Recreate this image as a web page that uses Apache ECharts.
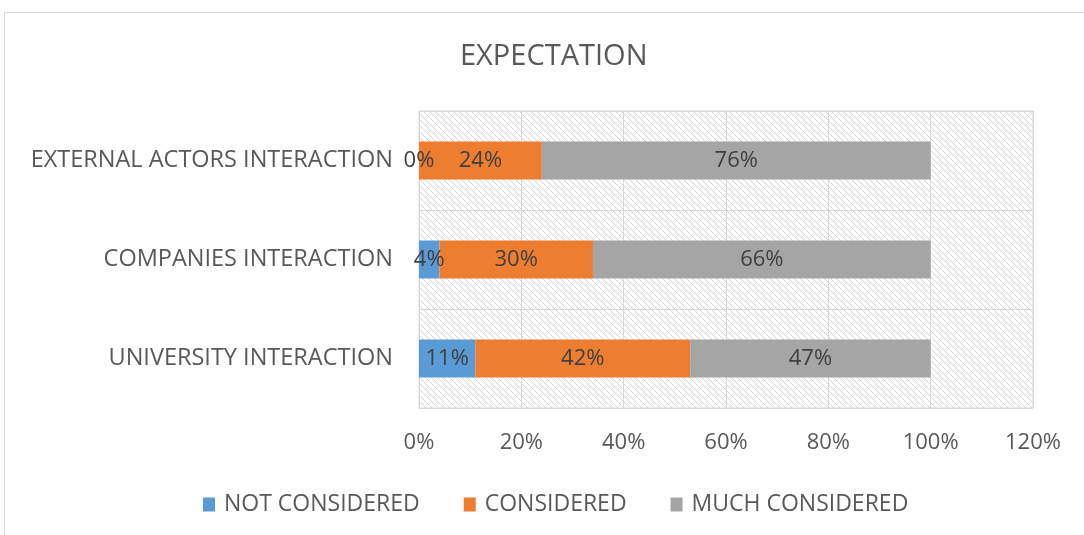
<!DOCTYPE html>
<html>
<head>
<meta charset="utf-8">
<script src="https://cdn.jsdelivr.net/npm/echarts@6/dist/echarts.min.js"></script>
<style>
html,body{margin:0;padding:0;background:#fff;}
#chart{width:1084px;height:535px;}
</style>
</head>
<body>
<div id="chart"></div>
<script>
const categories = ['UNIVERSITY INTERACTION', 'COMPANIES INTERACTION', 'EXTERNAL ACTORS INTERACTION'];
const seriesNames = ['NOT CONSIDERED', 'CONSIDERED', 'MUCH CONSIDERED'];
const notConsidered = [11, 4, 0];
const considered = [42, 30, 24];
const muchConsidered = [47, 66, 76];
const xTicks = [0, 20, 40, 60, 80, 100, 120];

const colors = ['#5B9BD5', '#ED7D31', '#A5A5A5'];
const FONT = 'Open Sans';

// hatch pattern
const pc = document.createElement('canvas');
pc.width = 6; pc.height = 6;
const pctx = pc.getContext('2d');
pctx.fillStyle = '#ffffff';
pctx.fillRect(0, 0, 6, 6);
pctx.strokeStyle = '#D4D4D4';
pctx.lineWidth = 1;
pctx.beginPath();
pctx.moveTo(-1, -1); pctx.lineTo(7, 7);
pctx.moveTo(-1, 5); pctx.lineTo(1, 7);
pctx.moveTo(5, -1); pctx.lineTo(7, 1);
pctx.stroke();

const chart = echarts.init(document.getElementById('chart'), null, {renderer: 'canvas'});
const labelStyle = {
  show: true,
  position: 'inside',
  formatter: '{c}%',
  color: '#404040',
  fontSize: 22,
  fontFamily: FONT
};
const dataSets = [notConsidered, considered, muchConsidered];
chart.setOption({
  animation: false,
  color: colors,
  title: {
    text: 'EXPECTATION',
    left: 455,
    top: 37,
    textStyle: {color: '#595959', fontSize: 29, fontWeight: 'normal', fontFamily: FONT}
  },
  graphic: [{
    type: 'rect',
    shape: {x: 4.5, y: 12.5, width: 1200, height: 700},
    style: {fill: 'none', stroke: '#D9D9D9', lineWidth: 1},
    silent: true
  }],
  legend: {
    bottom: 14,
    left: 198,
    itemWidth: 12,
    itemHeight: 14,
    itemGap: 44,
    icon: 'rect',
    textStyle: {color: '#595959', fontSize: 23, fontFamily: FONT, padding: [0, 0, 0, 4]},
    data: seriesNames
  },
  grid: {
    left: 419, right: 51, top: 111, bottom: 127,
    show: true,
    backgroundColor: {image: pc, repeat: 'repeat'},
    borderColor: '#D9D9D9',
    borderWidth: 1
  },
  xAxis: {
    type: 'value',
    min: xTicks[0],
    max: xTicks[xTicks.length - 1],
    interval: 20,
    axisLine: {show: false},
    axisTick: {show: false},
    axisLabel: {formatter: '{value}%', color: '#595959', fontSize: 22, fontFamily: FONT, margin: 24},
    splitLine: {show: true, lineStyle: {color: '#D9D9D9', width: 1}}
  },
  yAxis: {
    type: 'category',
    data: categories,
    axisLine: {show: false},
    axisTick: {show: false},
    axisLabel: {color: '#595959', fontSize: 23.5, fontFamily: FONT, margin: 26},
    splitLine: {show: true, lineStyle: {color: '#D9D9D9', width: 1}}
  },
  series: seriesNames.map((n, i) => ({
    name: n,
    type: 'bar',
    stack: 'total',
    barWidth: 38,
    data: dataSets[i],
    label: labelStyle
  }))
});
</script>
</body>
</html>
